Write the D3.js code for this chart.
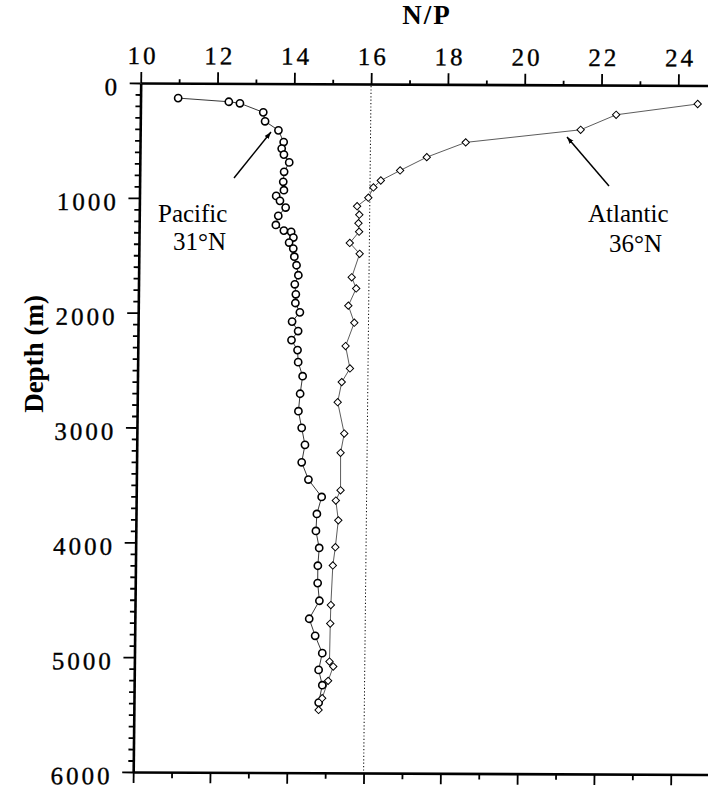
<!DOCTYPE html>
<html>
<head>
<meta charset="utf-8">
<script src="https://cdn.jsdelivr.net/npm/d3@7"></script>
<style>
  html, body { margin: 0; padding: 0; background: #fff; }
  svg { display: block; }
</style>
</head>
<body>
<svg id="chart" width="708" height="789"></svg>
<script>
// Nitrate/phosphate ratio profiles versus depth
const pacificDepth = [130, 160, 173, 251, 329, 407, 509, 566, 618, 686, 768, 855, 928, 978, 1021, 1079, 1152, 1231, 1280, 1290,
  1340, 1384, 1436, 1507, 1581, 1668, 1747, 1834, 1910, 1991, 2072, 2154, 2233, 2320, 2425, 2547, 2700, 2852, 2997, 3145,
  3297, 3447, 3598, 3746, 3894, 4042, 4197, 4348, 4502, 4659, 4807, 4958, 5104, 5237, 5389];
const pacificNP = [10.98, 12.30, 12.59, 13.20, 13.25, 13.60, 13.74, 13.69, 13.75, 13.89, 13.76, 13.74, 13.76, 13.56, 13.66, 13.81, 13.62, 13.56, 13.77, 13.96,
  14.02, 13.91, 14.02, 14.05, 14.11, 14.16, 14.07, 14.10, 14.09, 14.21, 14.01, 14.17, 14.00, 14.16, 14.18, 14.30, 14.24, 14.20, 14.29, 14.38,
  14.30, 14.48, 14.83, 14.71, 14.69, 14.78, 14.75, 14.75, 14.80, 14.54, 14.70, 14.89, 14.80, 14.90, 14.81];

const atlanticDepth = [162, 259, 391, 505, 635, 752, 840, 901, 990, 1065, 1139, 1213, 1287, 1385, 1479, 1684, 1781, 1931, 2079,
  2283, 2478, 2597, 2772, 3045, 3213, 3539, 3629, 3801, 4035, 4194, 4539, 4700, 5031, 5074, 5199, 5350, 5453];
const atlanticNP = [24.51, 22.39, 21.47, 18.48, 17.47, 16.78, 16.28, 16.09, 15.96, 15.67, 15.73, 15.71, 15.73, 15.49, 15.75, 15.55, 15.67, 15.47, 15.63,
  15.41, 15.53, 15.32, 15.22, 15.40, 15.31, 15.32, 15.20, 15.27, 15.20, 15.14, 15.10, 15.09, 15.08, 15.18, 15.05, 14.90, 14.81];

const npTicks = [10, 12, 14, 16, 18, 20, 22, 24];
const npMinorTicks = [11, 13, 15, 17, 19, 21, 23, 25];
const depthTicks = [0, 1000, 2000, 3000, 4000, 5000, 6000];
const depthMinorTicks = d3.range(0, 6001, 100).filter(d => d % 1000 !== 0);
const redfieldRatio = 16;

const pacific = pacificDepth.map((d, i) => ({ depth: d, np: pacificNP[i] }));
const atlantic = atlanticDepth.map((d, i) => ({ depth: d, np: atlanticNP[i] }));

const svg = d3.select("#chart");
const serif = "'Liberation Serif', 'Times New Roman', serif";

const plotLeft = 140.7, plotTop = 83;
const x = d3.scaleLinear().domain([10, 25]).range([plotLeft, plotLeft + 15 * 38.4]);
const y = d3.scaleLinear().domain([0, 6000]).range([plotTop, 772]);

// plotting frame, slightly sheared
const frame = svg.append("g")
  .attr("transform", `translate(${plotLeft},${plotTop}) matrix(1,0.0043,-0.0109,1,0,0) translate(${-plotLeft},${-plotTop})`);

function styleAxis(g, width) {
  g.attr("font-family", serif);
  g.select(".domain").attr("stroke", "#000").attr("stroke-width", width);
  g.selectAll(".tick line").attr("stroke", "#000").attr("stroke-width", 1.8);
}

function styleLabels(sel) {
  sel.attr("font-family", serif).attr("font-size", 25).attr("letter-spacing", 3)
    .attr("fill", "#000").attr("stroke", "#000").attr("stroke-width", 0.35);
}

// top axis: N/P
const topMinor = frame.append("g").attr("transform", `translate(0,${plotTop})`)
  .call(d3.axisTop(x).tickValues(npMinorTicks).tickSize(4).tickSizeOuter(0).tickFormat(""));
topMinor.select(".domain").remove();
styleAxis(topMinor, 0);
const topAxis = frame.append("g").attr("transform", `translate(0,${plotTop})`)
  .call(d3.axisTop(x).tickValues(npTicks).tickSize(11).tickSizeOuter(0).tickFormat(d3.format("d")));
styleAxis(topAxis, 2.6);
topAxis.selectAll(".tick text")
  .attr("y", -19).attr("dy", "0").attr("dx", 1.5)
  .call(styleLabels);

// bottom axis: ticks only
const botMinor = frame.append("g").attr("transform", `translate(0,${y(6000)})`)
  .call(d3.axisBottom(x).tickValues(npMinorTicks).tickSize(6).tickSizeOuter(0).tickFormat(""));
botMinor.select(".domain").remove();
styleAxis(botMinor, 0);
const botAxis = frame.append("g").attr("transform", `translate(0,${y(6000)})`)
  .call(d3.axisBottom(x).tickValues(npTicks).tickSize(11).tickSizeOuter(0).tickFormat(""));
styleAxis(botAxis, 2.6);

// left axis: depth
const leftMinor = frame.append("g").attr("transform", `translate(${plotLeft},0)`)
  .call(d3.axisLeft(y).tickValues(depthMinorTicks).tickSize(5).tickSizeOuter(0).tickFormat(""));
leftMinor.select(".domain").remove();
styleAxis(leftMinor, 0);
const leftAxis = frame.append("g").attr("transform", `translate(${plotLeft},0)`)
  .call(d3.axisLeft(y).tickValues(depthTicks).tickSize(11).tickSizeOuter(0).tickFormat(d3.format("d")));
styleAxis(leftAxis, 2.6);
leftAxis.selectAll(".tick text")
  .attr("x", -20.5).attr("dy", "0").attr("y", 12)
  .call(styleLabels);

// reference N/P = 16
frame.append("line")
  .attr("x1", x(redfieldRatio)).attr("x2", x(redfieldRatio))
  .attr("y1", y(0) + 2).attr("y2", y(6000))
  .attr("stroke", "#000").attr("stroke-width", 1)
  .attr("stroke-dasharray", "1.2,2.2");

const line = d3.line().x(d => x(d.np)).y(d => y(d.depth));

frame.append("path").datum(pacific).attr("d", line)
  .attr("fill", "none").attr("stroke", "#222").attr("stroke-width", 0.9);
frame.append("path").datum(atlantic).attr("d", line)
  .attr("fill", "none").attr("stroke", "#333").attr("stroke-width", 0.8);

frame.append("g").selectAll("circle").data(pacific).join("circle")
  .attr("cx", d => x(d.np)).attr("cy", d => y(d.depth)).attr("r", 3.6)
  .attr("fill", "#fff").attr("stroke", "#000").attr("stroke-width", 1.6);

const diamond = d3.symbol().type(d3.symbolSquare).size(27);
frame.append("g").selectAll("path").data(atlantic).join("path")
  .attr("d", diamond)
  .attr("transform", d => `translate(${x(d.np)},${y(d.depth)}) rotate(45)`)
  .attr("fill", "#fff").attr("stroke", "#000").attr("stroke-width", 1);

// titles
svg.append("text")
  .attr("x", 427).attr("y", 24).attr("text-anchor", "middle")
  .attr("font-family", serif).attr("font-size", 27).attr("font-weight", "bold")
  .attr("letter-spacing", 2).text("N/P");

svg.append("text")
  .attr("transform", "translate(43,354) rotate(-90)")
  .attr("text-anchor", "middle")
  .attr("font-family", serif).attr("font-size", 27).attr("font-weight", "bold")
  .text("Depth (m)");

// station labels with arrows
svg.append("defs").append("marker")
  .attr("id", "head").attr("viewBox", "0 0 10 10")
  .attr("refX", 10).attr("refY", 5)
  .attr("markerWidth", 7).attr("markerHeight", 7)
  .attr("markerUnits", "userSpaceOnUse")
  .attr("orient", "auto")
  .append("path").attr("d", "M0,1.5 L10,5 L0,8.5 Z").attr("fill", "#000");

const notes = svg.append("g").attr("font-family", serif).attr("font-size", 25).attr("fill", "#000");
notes.append("text").attr("x", 158).attr("y", 222).text("Pacific");
notes.append("text").attr("x", 173).attr("y", 250).text("31°N");
notes.append("text").attr("x", 588).attr("y", 222).text("Atlantic");
notes.append("text").attr("x", 609).attr("y", 252).text("36°N");

svg.append("line").attr("x1", 234).attr("y1", 178).attr("x2", 271).attr("y2", 132)
  .attr("stroke", "#000").attr("stroke-width", 1.5).attr("marker-end", "url(#head)");
svg.append("line").attr("x1", 609).attr("y1", 186).attr("x2", 567).attr("y2", 137)
  .attr("stroke", "#000").attr("stroke-width", 1.5).attr("marker-end", "url(#head)");
</script>
</body>
</html>
